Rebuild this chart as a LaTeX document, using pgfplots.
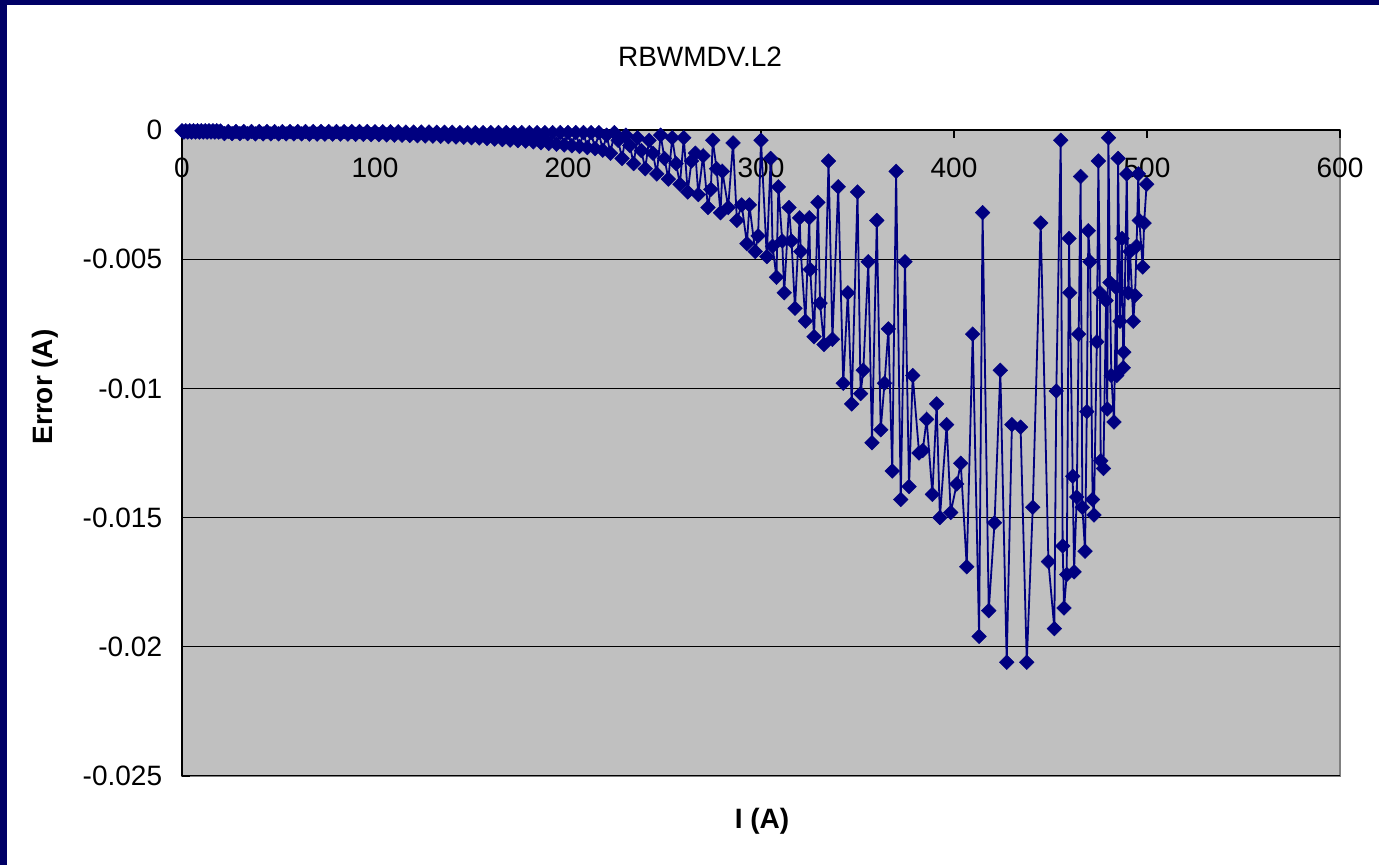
\documentclass[border=0pt]{standalone}
\usepackage{pgfplots}
\pgfplotsset{compat=1.18}
\usepackage{fontspec}
\setmainfont{Liberation Sans}
\definecolor{navy}{HTML}{000080}
\definecolor{frame}{HTML}{000066}
\definecolor{plotgray}{HTML}{C0C0C0}
\definecolor{bordergray}{HTML}{808080}
\begin{document}
\begin{tikzpicture}[x=1pt,y=1pt]
\fill[white] (0,0) rectangle (689.5,432.5);
\fill[frame] (0,0) rectangle (3.5,432.5);
\fill[frame] (0,430) rectangle (689.5,432.5);
\begin{axis}[
  at={(91pt,44.5pt)}, anchor=south west,
  scale only axis, width=579pt, height=323pt,
  xmin=0, xmax=600, ymin=-0.025, ymax=0,
  clip=false,
  separate axis lines,
  axis x line*=top, axis y line*=left,
  axis line style={black, line width=0.6pt},
  axis background/.style={fill=plotgray, draw=bordergray, line width=0.6pt},
  xtick={0,100,200,300,400,500,600},
  xticklabels={0,100,200,300,400,500,600},
  ytick={-0.025,-0.02,-0.015,-0.01,-0.005,0},
  yticklabels={-0.025,-0.02,-0.015,-0.01,-0.005,0},
  scaled y ticks=false,
  tick align=inside,
  major tick length=4pt,
  tick style={black, line width=0.6pt},
  ymajorgrids, grid style={black, line width=0.5pt},
  ticklabel style={font=\fontsize{14}{16}\selectfont},
  xticklabel style={anchor=north, yshift=-10.5pt},
  yticklabel style={xshift=-6.4pt},
  /pgf/number format/assume math mode=true,
]
\addplot[color=navy, line width=0.9pt, mark=square*, mark size=2.6pt,
  mark options={rotate=45, fill=navy, draw=navy, line width=0.2pt}] coordinates {
(0,-0.00003)(1,-0.00008)(2,-0.00003)(3,-0.00008)(4,-0.00003)(5,-0.00008)(6,-0.00003)(7,-0.00008)(8,-0.00003)(9,-0.00008)(10,-0.00003)(11,-0.00008)(12,-0.00003)(13,-0.00008)(14,-0.00003)(15,-0.00008)(16,-0.00003)(17,-0.00008)(18,-0.00003)(19,-0.00008)(20,-0.00004)
(22,-0.00014)(24,-0.00006)(26,-0.00014)(28,-0.00006)(30,-0.00014)(32,-0.00006)(34,-0.00014)(36,-0.00006)(38,-0.00015)(40,-0.00006)(42,-0.00015)(44,-0.00006)(46,-0.00015)(48,-0.00006)(50,-0.00015)(52,-0.00006)(54,-0.00015)(56,-0.00006)(58,-0.00015)(60,-0.00006)(62,-0.00015)(64,-0.00006)(66,-0.00016)(68,-0.00006)(70,-0.00016)(72,-0.00006)(74,-0.00016)(76,-0.00006)(78,-0.00016)(80,-0.00006)(82,-0.00016)(84,-0.00006)(86,-0.00016)(88,-0.00006)(90,-0.00017)(92,-0.00006)(94,-0.00017)(96,-0.00006)(98,-0.00018)(100,-0.00007)
(102,-0.00018)(104,-0.00007)(106,-0.00019)(108,-0.00007)(110,-0.0002)(112,-0.00007)(114,-0.0002)(116,-0.00008)(118,-0.00021)(120,-0.00008)(122,-0.00022)(124,-0.00008)(126,-0.00023)(128,-0.00008)(130,-0.00024)(132,-0.00009)(134,-0.00025)(136,-0.00009)(138,-0.00026)(140,-0.00009)(142,-0.00027)(144,-0.0001)(146,-0.00028)(148,-0.0001)(150,-0.0003)
(152,-0.0001)(154,-0.00031)(156,-0.0001)(158,-0.00033)(160,-0.0001)(162,-0.00035)(164,-0.0001)(166,-0.00037)(168,-0.0001)(170,-0.00039)(172,-0.0001)(174,-0.00041)(176,-0.0001)(178,-0.00043)(180,-0.0001)(182,-0.00046)(184,-0.0001)(186,-0.00049)(188,-0.0001)(190,-0.00052)(192,-0.0001)(194,-0.00055)(196,-0.0001)(198,-0.00058)(200,-0.0001)(202,-0.00061)(204,-0.0001)(206,-0.00064)(208,-0.0001)(210,-0.00068)(212,-0.0001)(214,-0.00072)(216,-0.0001)(218,-0.00078)
(220,-0.0002)(222,-0.0009)(224,-0.0001)(226,-0.0004)(228,-0.0011)(230,-0.0002)(232,-0.0006)(234,-0.0013)(236,-0.0003)(238,-0.0008)(240,-0.0015)(242,-0.0004)(244,-0.0009)(246,-0.0017)(248,-0.0002)(250,-0.0011)(252,-0.0019)(254,-0.0003)(256,-0.0013)(258,-0.0021)(260,-0.0003)(262,-0.0024)(264,-0.0012)(266,-0.0009)(267.5,-0.0025)(270,-0.001)(272.5,-0.003)(274,-0.0023)(275,-0.0004)(277,-0.0015)(279,-0.0032)(280,-0.0016)(283,-0.003)(285.5,-0.0005)(287.5,-0.0035)(290,-0.0029)(292.7,-0.0044)(294,-0.0029)(297,-0.0047)(298.5,-0.0041)
(300,-0.0004)(303,-0.0049)(305,-0.0011)(306,-0.0045)(308,-0.0057)(309,-0.0022)(311,-0.0043)(312,-0.0063)(314.5,-0.003)(315.8,-0.0043)(317.6,-0.0069)(320,-0.0034)(320.6,-0.0047)(323,-0.0074)(325,-0.0034)(325.5,-0.0054)(327.5,-0.008)(329.5,-0.0028)(330.6,-0.0067)(332.6,-0.0083)(335,-0.0012)(337,-0.0081)(340,-0.0022)(342.6,-0.0098)(345,-0.0063)(347,-0.0106)(350,-0.0024)(351.6,-0.0102)(353,-0.0093)(355.6,-0.0051)(357.5,-0.0121)(360,-0.0035)(362,-0.0116)(364,-0.0098)(366,-0.0077)(368,-0.0132)(370,-0.0016)(372.4,-0.0143)(374.6,-0.0051)(376.7,-0.0138)(378.6,-0.0095)(381.9,-0.0125)(383.8,-0.0124)(385.8,-0.0112)(388.8,-0.0141)(391,-0.0106)(392.7,-0.015)(396.2,-0.0114)(398.3,-0.0148)
(401.4,-0.0137)(403.5,-0.0129)(406.6,-0.0169)(409.7,-0.0079)(413,-0.0196)(414.8,-0.0032)(418,-0.0186)(421,-0.0152)(424,-0.0093)(427.3,-0.0206)(430,-0.0114)(434.5,-0.0115)(437.7,-0.0206)(440.8,-0.0146)(444.9,-0.0036)(448.9,-0.0167)(452,-0.0193)(453,-0.0101)(455.3,-0.0004)(456.3,-0.0161)(457,-0.0185)(458.4,-0.0172)(459.6,-0.0042)(460,-0.0063)(461.5,-0.0134)(462.2,-0.0171)(463.6,-0.0142)(464.6,-0.0079)(465.6,-0.0018)(466.5,-0.0146)(467.9,-0.0163)(468.8,-0.0109)(469.6,-0.0039)(470.5,-0.0051)(471.8,-0.0143)(472.5,-0.0149)(474,-0.0082)(474.8,-0.0012)(475.6,-0.0063)(476,-0.0128)(477.4,-0.0131)(478.8,-0.0066)(479.4,-0.0108)(480,-0.0003)(480.8,-0.0059)(481.5,-0.0095)(482.9,-0.0113)(484,-0.0061)(484.3,-0.0095)(485,-0.0011)(486,-0.0074)(487,-0.0042)(487.7,-0.0092)(488,-0.0086)(489.5,-0.0017)(490.3,-0.0063)(491.2,-0.0047)(492.9,-0.0074)(493.8,-0.0064)(494.6,-0.0045)(495.5,-0.0017)(496,-0.0035)(497.8,-0.0053)(498.5,-0.0036)(499.8,-0.0021)
};
\end{axis}
\node[font=\fontsize{14}{16}\selectfont] at (350,404) {RBWMDV.L2};
\node[font=\fontsize{14}{16}\selectfont\bfseries, rotate=90] at (22.5,239) {Error (A)};
\node[font=\fontsize{14}{16}\selectfont\bfseries] at (381,22) {I (A)};
\end{tikzpicture}
\end{document}
